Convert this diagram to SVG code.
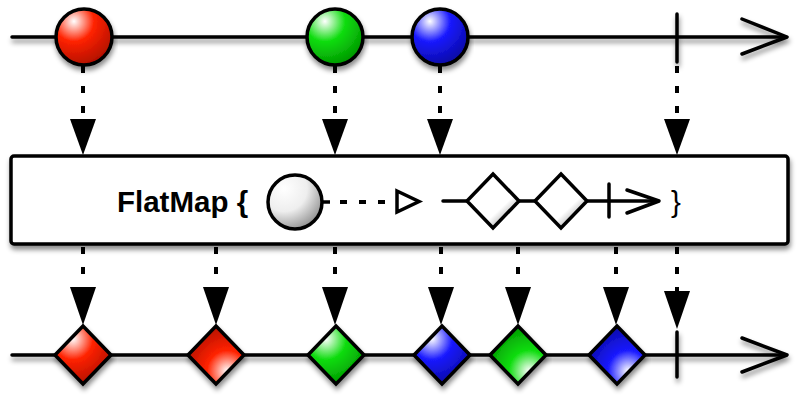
<svg xmlns="http://www.w3.org/2000/svg" width="800" height="400" viewBox="0 0 800 400">
<defs>
<filter id="sh" x="-10%" y="-30%" width="120%" height="180%">
<feDropShadow dx="1" dy="4" stdDeviation="2.5" flood-color="#000" flood-opacity="0.45"/>
</filter>
<radialGradient id="redTL" cx="0.32" cy="0.22" r="0.8"><stop offset="0" stop-color="#fff"/><stop offset="0.45" stop-color="#ff2200"/><stop offset="1" stop-color="#b31000"/></radialGradient>
<radialGradient id="redBR" cx="0.7" cy="0.78" r="0.8"><stop offset="0" stop-color="#fff"/><stop offset="0.45" stop-color="#ff2200"/><stop offset="1" stop-color="#b31000"/></radialGradient>
<radialGradient id="greenTL" cx="0.32" cy="0.22" r="0.8"><stop offset="0" stop-color="#fff"/><stop offset="0.45" stop-color="#11dd11"/><stop offset="1" stop-color="#009900"/></radialGradient>
<radialGradient id="greenBR" cx="0.7" cy="0.78" r="0.8"><stop offset="0" stop-color="#fff"/><stop offset="0.45" stop-color="#11dd11"/><stop offset="1" stop-color="#009900"/></radialGradient>
<radialGradient id="blueTL" cx="0.32" cy="0.22" r="0.8"><stop offset="0" stop-color="#fff"/><stop offset="0.45" stop-color="#1a1aff"/><stop offset="1" stop-color="#0a0aa8"/></radialGradient>
<radialGradient id="blueBR" cx="0.7" cy="0.78" r="0.8"><stop offset="0" stop-color="#fff"/><stop offset="0.45" stop-color="#1a1aff"/><stop offset="1" stop-color="#0a0aa8"/></radialGradient>
<radialGradient id="grayTL" cx="0.3" cy="0.25" r="0.85"><stop offset="0" stop-color="#fff"/><stop offset="0.5" stop-color="#eee"/><stop offset="1" stop-color="#888"/></radialGradient>
<linearGradient id="grayD" x1="0.35" y1="0.35" x2="0.85" y2="0.9"><stop offset="0" stop-color="#fff"/><stop offset="0.55" stop-color="#fff"/><stop offset="1" stop-color="#999"/></linearGradient>
</defs>
<style>
.ln{fill:none;stroke:#000;stroke-width:3.5;stroke-linecap:round;stroke-linejoin:round}
.dash{fill:none;stroke:#000;stroke-width:4;stroke-dasharray:7 13;stroke-linecap:butt}
.head{fill:#000}
.mk{stroke:#000;stroke-width:3.5;stroke-linejoin:miter}
.lbl{font-family:"Liberation Sans",Arial,sans-serif;font-size:29.5px;fill:#000}
</style>

<g id="top-timeline" filter="url(#sh)">
<path class="ln" d="M12,37 H786"/>
<path class="ln" d="M742,19 L787,37 L742,54"/>
<path class="ln" d="M677,14 V62"/>
</g>

<g id="bottom-timeline" filter="url(#sh)">
<path class="ln" d="M12,355 H786"/>
<path class="ln" d="M742,338 L787,355 L742,372"/>
<path class="ln" d="M677,332 V377"/>
</g>

<g id="connectors">
<path class="dash" d="M83,66 V119"/>
<polygon class="head" points="70,119 96,119 83,155"/>
<path class="dash" d="M335,66 V119"/>
<polygon class="head" points="322,119 348,119 335,155"/>
<path class="dash" d="M440,66 V119"/>
<polygon class="head" points="427,119 453,119 440,155"/>
<path class="dash" d="M677,66 V119"/>
<polygon class="head" points="664,119 690,119 677,155"/>

<path class="dash" d="M83,247 V287"/>
<polygon class="head" points="70,287 96,287 83,325"/>
<path class="dash" d="M216,247 V287"/>
<polygon class="head" points="203,287 229,287 216,325"/>
<path class="dash" d="M335,247 V287"/>
<polygon class="head" points="322,287 348,287 335,325"/>
<path class="dash" d="M441,247 V287"/>
<polygon class="head" points="428,287 454,287 441,325"/>
<path class="dash" d="M518,247 V287"/>
<polygon class="head" points="505,287 531,287 518,325"/>
<path class="dash" d="M616,247 V287"/>
<polygon class="head" points="603,287 629,287 616,325"/>
<path class="dash" d="M677,247 V291"/>
<polygon class="head" points="664,291 690,291 677,329"/>
</g>

<g id="circle-red" filter="url(#sh)"><circle cx="84" cy="37" r="28" fill="url(#redTL)" class="mk"/></g>
<g id="circle-green" filter="url(#sh)"><circle cx="335" cy="37" r="28" fill="url(#greenTL)" class="mk"/></g>
<g id="circle-blue" filter="url(#sh)"><circle cx="440" cy="37" r="28" fill="url(#blueTL)" class="mk"/></g>

<g id="flatmap-box">
<rect x="11" y="156" width="777" height="88" rx="3" fill="#fff" stroke="#000" stroke-width="3.5" filter="url(#sh)"/>
<text class="lbl" x="117" y="212" font-weight="bold">FlatMap {</text>
<circle cx="295" cy="202" r="27" fill="url(#grayTL)" class="mk"/>
<path fill="none" stroke="#000" stroke-width="3.5" d="M322,202 H330"/>
<path fill="none" stroke="#000" stroke-width="4" stroke-dasharray="7 12" d="M340,202 H390"/>
<polygon points="397,191 419,201.5 397,212" fill="#fff" stroke="#000" stroke-width="3.5"/>
<path class="ln" d="M443,201 H468 M518,201 H536 M587,201 H658"/>
<path class="ln" d="M627,190 L659,201 L627,213"/>
<path class="ln" d="M609,184 V217"/>
<polygon points="493,174 519,201 493,228 467,201" fill="url(#grayD)" class="mk"/>
<polygon points="561,174 587,201 561,228 535,201" fill="url(#grayD)" class="mk"/>
<text class="lbl" x="671" y="212">}</text>
</g>

<g id="diamond-red-1" filter="url(#sh)"><polygon points="83,326 111,355 83,384 55,355" fill="url(#redTL)" class="mk"/></g>
<g id="diamond-red-2" filter="url(#sh)"><polygon points="216,326 244,355 216,384 188,355" fill="url(#redBR)" class="mk"/></g>
<g id="diamond-green-1" filter="url(#sh)"><polygon points="336,326 364,355 336,384 308,355" fill="url(#greenTL)" class="mk"/></g>
<g id="diamond-blue-1" filter="url(#sh)"><polygon points="442,326 470,355 442,384 414,355" fill="url(#blueTL)" class="mk"/></g>
<g id="diamond-green-2" filter="url(#sh)"><polygon points="518,326 546,355 518,384 490,355" fill="url(#greenBR)" class="mk"/></g>
<g id="diamond-blue-2" filter="url(#sh)"><polygon points="617,326 645,355 617,384 589,355" fill="url(#blueBR)" class="mk"/></g>
</svg>
